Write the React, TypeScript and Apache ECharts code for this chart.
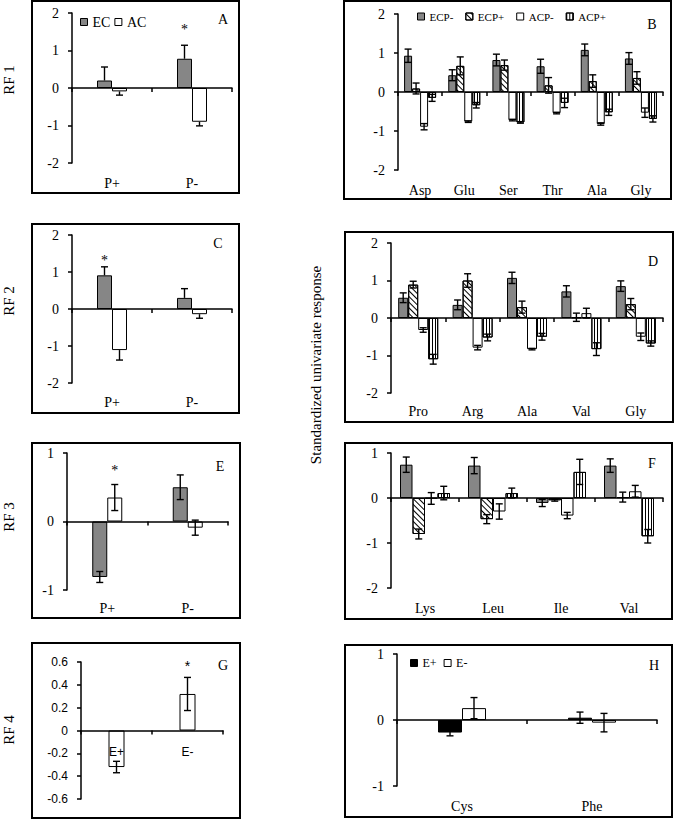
import React, { useEffect, useRef } from 'react';
import * as echarts from 'echarts';

// ---------------- DATA ----------------
// Panel A (RF 1)
const catsA = ['P+', 'P-'];
const aEC = [0.2, 0.78];
const aECErr = [0.36, 0.36];
const aAC = [-0.09, -0.9];
const aACErr = [0.1, 0.11];

// Panel C (RF 2)
const catsC = ['P+', 'P-'];
const cEC = [0.91, 0.3];
const cECErr = [0.23, 0.25];
const cAC = [-1.11, -0.14];
const cACErr = [0.27, 0.11];

// Panel E (RF 3)
const catsE = ['P+', 'P-'];
const eEC = [-0.81, 0.5];
const eECErr = [0.08, 0.18];
const eAC = [0.35, -0.09];
const eACErr = [0.19, 0.11];

// Panel G (RF 4)
const catsG = ['E+', 'E-'];
const gVal = [-0.32, 0.32];
const gErr = [0.05, 0.145];

// Panel B
const catsB = ['Asp', 'Glu', 'Ser', 'Thr', 'Ala', 'Gly'];
const bECPm = [0.93, 0.43, 0.82, 0.66, 1.08, 0.86];
const bECPmErr = [0.17, 0.14, 0.15, 0.18, 0.15, 0.15];
const bECPp = [0.09, 0.67, 0.69, 0.17, 0.28, 0.36];
const bECPpErr = [0.14, 0.23, 0.13, 0.2, 0.16, 0.16];
const bACPm = [-0.89, -0.76, -0.72, -0.54, -0.82, -0.53];
const bACPmErr = [0.08, 0.02, 0.02, 0.02, 0.03, 0.12];
const bACPp = [-0.15, -0.34, -0.78, -0.28, -0.52, -0.69];
const bACPpErr = [0.09, 0.07, 0.02, 0.12, 0.08, 0.08];

// Panel D
const catsD = ['Pro', 'Arg', 'Ala', 'Val', 'Gly'];
const dECPm = [0.54, 0.35, 1.07, 0.71, 0.85];
const dECPmErr = [0.13, 0.13, 0.15, 0.15, 0.14];
const dECPp = [0.89, 1.0, 0.29, 0.02, 0.37];
const dECPpErr = [0.09, 0.18, 0.16, 0.11, 0.15];
const dACPm = [-0.32, -0.79, -0.83, 0.13, -0.5];
const dACPmErr = [0.06, 0.06, 0.02, 0.13, 0.1];
const dACPp = [-1.1, -0.52, -0.5, -0.83, -0.68];
const dACPpErr = [0.13, 0.09, 0.09, 0.17, 0.07];

// Panel F
const catsF = ['Lys', 'Leu', 'Ile', 'Val'];
const fECPm = [0.74, 0.72, -0.11, 0.72];
const fECPmErr = [0.17, 0.18, 0.08, 0.15];
const fECPp = [-0.8, -0.47, -0.05, 0.02];
const fECPpErr = [0.11, 0.1, 0.02, 0.11];
const fACPm = [-0.01, -0.3, -0.39, 0.15];
const fACPmErr = [0.13, 0.17, 0.07, 0.13];
const fACPp = [0.11, 0.11, 0.58, -0.85];
const fACPpErr = [0.15, 0.11, 0.28, 0.15];

// Panel H
const catsH = ['Cys', 'Phe'];
const hEp = [-0.19, 0.035];
const hEpErr = [0.05, 0.085];
const hEm = [0.18, -0.04];
const hEmErr = [0.16, 0.14];

const panelLetters = ['A', 'B', 'C', 'D', 'E', 'F', 'G', 'H'];
const rfLabels = ['RF 1', 'RF 2', 'RF 3', 'RF 4'];
const yTitle = 'Standardized univariate response';

// ---------------- STYLES ----------------
const SERIF = '"Liberation Serif", "Times New Roman", serif';
const SANS = '"Liberation Sans", Arial, sans-serif';

const hatchDecal = {
  symbol: 'rect',
  symbolSize: 1,
  color: '#000',
  dashArrayX: [1, 0],
  dashArrayY: [1, 3],
  rotation: Math.PI / 4,
};
const vertDecal = {
  symbol: 'rect',
  symbolSize: 1,
  color: '#000',
  dashArrayX: [1, 2],
  dashArrayY: [1, 0],
  rotation: 0,
};

const sGray = { color: '#868686', borderColor: '#000', borderWidth: 1 };
const sWhite = { color: '#ffffff', borderColor: '#000', borderWidth: 1 };
const sBlack = { color: '#000000', borderColor: '#000', borderWidth: 1 };
const sHatch = { color: '#ffffff', borderColor: '#000', borderWidth: 1, decal: hatchDecal };
const sVert = { color: '#ffffff', borderColor: '#000', borderWidth: 1, decal: vertDecal };

interface SDef {
  name: string;
  values: number[];
  errs: number[];
  style: any;
  star?: number;
  starDist?: number;
}
interface PDef {
  grid: { left: number; top: number; width: number; height: number };
  cats: string[];
  min: number;
  max: number;
  interval: number;
  labelMargin: number;
  font: string;
  fontSize: number;
  barWidth: number;
  oneSided: boolean;
  series: SDef[];
  fmt?: (v: number) => string;
}

const panels: PDef[] = [
  {
    grid: { left: 72, top: 13, width: 160, height: 150 },
    cats: catsA, min: -2, max: 2, interval: 1, labelMargin: 13, font: SERIF, fontSize: 14,
    barWidth: 15, oneSided: true,
    series: [
      { name: 'EC', values: aEC, errs: aECErr, style: sGray, star: 1, starDist: 22 },
      { name: 'AC', values: aAC, errs: aACErr, style: sWhite },
    ],
  },
  {
    grid: { left: 398, top: 14, width: 265, height: 156 },
    cats: catsB, min: -2, max: 2, interval: 1, labelMargin: 13, font: SERIF, fontSize: 14,
    barWidth: 8, oneSided: false,
    series: [
      { name: 'ECP-', values: bECPm, errs: bECPmErr, style: sGray },
      { name: 'ECP+', values: bECPp, errs: bECPpErr, style: sHatch },
      { name: 'ACP-', values: bACPm, errs: bACPmErr, style: sWhite },
      { name: 'ACP+', values: bACPp, errs: bACPpErr, style: sVert },
    ],
  },
  {
    grid: { left: 72, top: 235, width: 160, height: 148 },
    cats: catsC, min: -2, max: 2, interval: 1, labelMargin: 12, font: SERIF, fontSize: 14,
    barWidth: 15, oneSided: true,
    series: [
      { name: 'EC', values: cEC, errs: cECErr, style: sGray, star: 0, starDist: 8 },
      { name: 'AC', values: cAC, errs: cACErr, style: sWhite },
    ],
  },
  {
    grid: { left: 391, top: 243, width: 272, height: 150 },
    cats: catsD, min: -2, max: 2, interval: 1, labelMargin: 11, font: SERIF, fontSize: 14,
    barWidth: 10, oneSided: false,
    series: [
      { name: 'ECP-', values: dECPm, errs: dECPmErr, style: sGray },
      { name: 'ECP+', values: dECPp, errs: dECPpErr, style: sHatch },
      { name: 'ACP-', values: dACPm, errs: dACPmErr, style: sWhite },
      { name: 'ACP+', values: dACPp, errs: dACPpErr, style: sVert },
    ],
  },
  {
    grid: { left: 67, top: 453, width: 161, height: 137 },
    cats: catsE, min: -1, max: 1, interval: 1, labelMargin: 11, font: SERIF, fontSize: 14,
    barWidth: 15, oneSided: false,
    series: [
      { name: 'EC', values: eEC, errs: eECErr, style: sGray },
      { name: 'AC', values: eAC, errs: eACErr, style: sWhite, star: 0, starDist: 20 },
    ],
  },
  {
    grid: { left: 391, top: 453, width: 272, height: 135 },
    cats: catsF, min: -2, max: 1, interval: 1, labelMargin: 13, font: SERIF, fontSize: 14,
    barWidth: 12.5, oneSided: false,
    series: [
      { name: 'ECP-', values: fECPm, errs: fECPmErr, style: sGray },
      { name: 'ECP+', values: fECPp, errs: fECPpErr, style: sHatch },
      { name: 'ACP-', values: fACPm, errs: fACPmErr, style: sWhite },
      { name: 'ACP+', values: fACPp, errs: fACPpErr, style: sVert },
    ],
  },
  {
    grid: { left: 81, top: 662, width: 142, height: 137 },
    cats: catsG, min: -0.6, max: 0.6, interval: 0.2, labelMargin: -53, font: SANS, fontSize: 12,
    barWidth: 16, oneSided: false,
    fmt: (v: number) => (Math.abs(v) < 1e-9 ? '0' : v.toFixed(1)),
    series: [{ name: 'RF4', values: gVal, errs: gErr, style: sWhite, star: 1, starDist: 21 }],
  },
  {
    grid: { left: 397, top: 654, width: 260, height: 132 },
    cats: catsH, min: -1, max: 1, interval: 1, labelMargin: 13, font: SERIF, fontSize: 14,
    barWidth: 24, oneSided: false,
    series: [
      { name: 'E+', values: hEp, errs: hEpErr, style: sBlack },
      { name: 'E-', values: hEm, errs: hEmErr, style: sWhite },
    ],
  },
];

const boxes = [
  { x: 32, y: 1, w: 207, h: 192 },
  { x: 344, y: 1, w: 327, h: 198 },
  { x: 32, y: 224, w: 207, h: 189 },
  { x: 345, y: 232, w: 328, h: 190 },
  { x: 32, y: 443, w: 208, h: 175 },
  { x: 345, y: 443, w: 327, h: 176 },
  { x: 32, y: 643, w: 208, h: 175 },
  { x: 345, y: 645, w: 327, h: 172 },
];
const letterPos = [
  [223, 19], [652, 24], [218, 243], [653, 261], [220, 466], [652, 463], [223, 665], [654, 665],
];
const rfPos = [
  [9, 80], [9, 301], [9, 517], [9, 730],
];

function buildOption() {
  const grid: any[] = [];
  const xAxis: any[] = [];
  const yAxis: any[] = [];
  const series: any[] = [];

  panels.forEach((p, k) => {
    grid.push({ ...p.grid, containLabel: false });
    xAxis.push({
      type: 'category',
      gridIndex: k,
      data: p.cats,
      z: 8,
      axisLine: { show: true, onZero: true, lineStyle: { color: '#000', width: 1.5 } },
      axisTick: { show: true, alignWithLabel: false, inside: false, length: 4, lineStyle: { color: '#000', width: 1.5 } },
      axisLabel: {
        show: true, interval: 0, margin: p.labelMargin,
        fontFamily: p.font, fontSize: p.fontSize, color: '#000',
      },
      splitLine: { show: false },
    });
    yAxis.push({
      type: 'value',
      gridIndex: k,
      min: p.min,
      max: p.max,
      interval: p.interval,
      axisLine: { show: true, onZero: false, lineStyle: { color: '#000', width: 1.5 } },
      axisTick: { show: true, inside: false, length: 4, lineStyle: { color: '#000', width: 1.5 } },
      axisLabel: {
        show: true, margin: 13, fontFamily: p.font, fontSize: p.fontSize, color: '#000',
        formatter: p.fmt ? p.fmt : undefined,
      },
      splitLine: { show: false },
    });

    const n = p.series.length;
    p.series.forEach((s, j) => {
      const data = s.values.map((v, i) =>
        s.star === i
          ? {
              value: v,
              label: {
                show: true, position: 'top', distance: s.starDist, formatter: '*',
                fontFamily: p.font, fontSize: 14, color: '#000000',
                textBorderWidth: 0, textBorderColor: 'transparent',
              },
            }
          : v
      );
      series.push({
        type: 'bar',
        name: s.name,
        xAxisIndex: k,
        yAxisIndex: k,
        barWidth: p.barWidth,
        barGap: '0%',
        color: s.style.color,
        itemStyle: s.style,
        label: { color: '#000000', textBorderWidth: 0 },
        data,
        z: 2,
      });
      const offset = (j - (n - 1) / 2) * p.barWidth;
      const oneSided = p.oneSided;
      const cap = 3.5;
      series.push({
        type: 'custom',
        name: 'err_' + k + '_' + j,
        xAxisIndex: k,
        yAxisIndex: k,
        z: 5,
        clip: false,
        encode: { x: 0, y: 1 },
        data: s.values.map((v, i) => [i, v, s.errs[i]]),
        renderItem: (params: any, api: any) => {
          const x = api.value(0);
          const v = api.value(1) as number;
          const e = api.value(2) as number;
          let hi = v + e;
          let lo = v - e;
          if (oneSided) {
            if (v >= 0) lo = v;
            else hi = v;
          }
          const pHi = api.coord([x, hi]);
          const pLo = api.coord([x, lo]);
          const cx = pHi[0] + offset;
          const st = { stroke: '#000', lineWidth: 1.4, fill: null };
          const children: any[] = [
            { type: 'line', shape: { x1: cx, y1: pHi[1], x2: cx, y2: pLo[1] }, style: st },
          ];
          if (!oneSided || v >= 0)
            children.push({ type: 'line', shape: { x1: cx - cap, y1: pHi[1], x2: cx + cap, y2: pHi[1] }, style: st });
          if (!oneSided || v < 0)
            children.push({ type: 'line', shape: { x1: cx - cap, y1: pLo[1], x2: cx + cap, y2: pLo[1] }, style: st });
          return { type: 'group', children };
        },
      });
    });
  });

  const legendBase = {
    orient: 'horizontal',
    icon: 'rect',
    itemWidth: 7,
    itemHeight: 7,
    padding: 0,
    selectedMode: false,
    itemStyle: { borderColor: '#000', borderWidth: 1 },
  };
  const legend = [
    { ...legendBase, data: ['EC', 'AC'], left: 80, top: 15, itemGap: 4, textStyle: { fontFamily: SERIF, fontSize: 14, color: '#000' } },
    { ...legendBase, data: ['ECP-', 'ECP+', 'ACP-', 'ACP+'], left: 417, top: 11, itemGap: 12, textStyle: { fontFamily: SERIF, fontSize: 11, color: '#000' } },
    { ...legendBase, data: ['E+', 'E-'], left: 410, top: 657, itemGap: 7, textStyle: { fontFamily: SERIF, fontSize: 12, color: '#000' } },
  ];

  const graphic: any[] = [];
  boxes.forEach((b) => {
    graphic.push({
      type: 'rect',
      shape: { x: b.x, y: b.y, width: b.w, height: b.h },
      style: { fill: 'none', stroke: '#000', lineWidth: 2 },
      silent: true,
      z: 10,
    });
  });
  panelLetters.forEach((t, i) => {
    graphic.push({
      type: 'text',
      x: letterPos[i][0],
      y: letterPos[i][1],
      style: { text: t, font: '14px ' + SERIF, fill: '#000', textAlign: 'center', textVerticalAlign: 'middle' },
      z: 10,
    });
  });
  rfLabels.forEach((t, i) => {
    graphic.push({
      type: 'text',
      x: rfPos[i][0],
      y: rfPos[i][1],
      rotation: Math.PI / 2,
      style: { text: t, font: '15px ' + SERIF, fill: '#000', textAlign: 'center', textVerticalAlign: 'middle' },
      z: 10,
    });
  });
  graphic.push({
    type: 'text',
    x: 316,
    y: 365,
    rotation: Math.PI / 2,
    style: { text: yTitle, font: '15px ' + SERIF, fill: '#000', textAlign: 'center', textVerticalAlign: 'middle' },
    z: 10,
  });

  return {
    animation: false,
    backgroundColor: '#ffffff',
    grid,
    xAxis,
    yAxis,
    legend,
    series,
    graphic,
  };
}

export default function App() {
  const ref = useRef<HTMLDivElement>(null);
  useEffect(() => {
    const chart = echarts.init(ref.current as HTMLDivElement, null, { renderer: 'svg' });
    chart.setOption(buildOption() as any);
    return () => chart.dispose();
  }, []);
  return (
    <div
      ref={ref}
      style={{ position: 'fixed', left: 0, top: 0, width: 675, height: 819, background: '#fff' }}
    />
  );
}
